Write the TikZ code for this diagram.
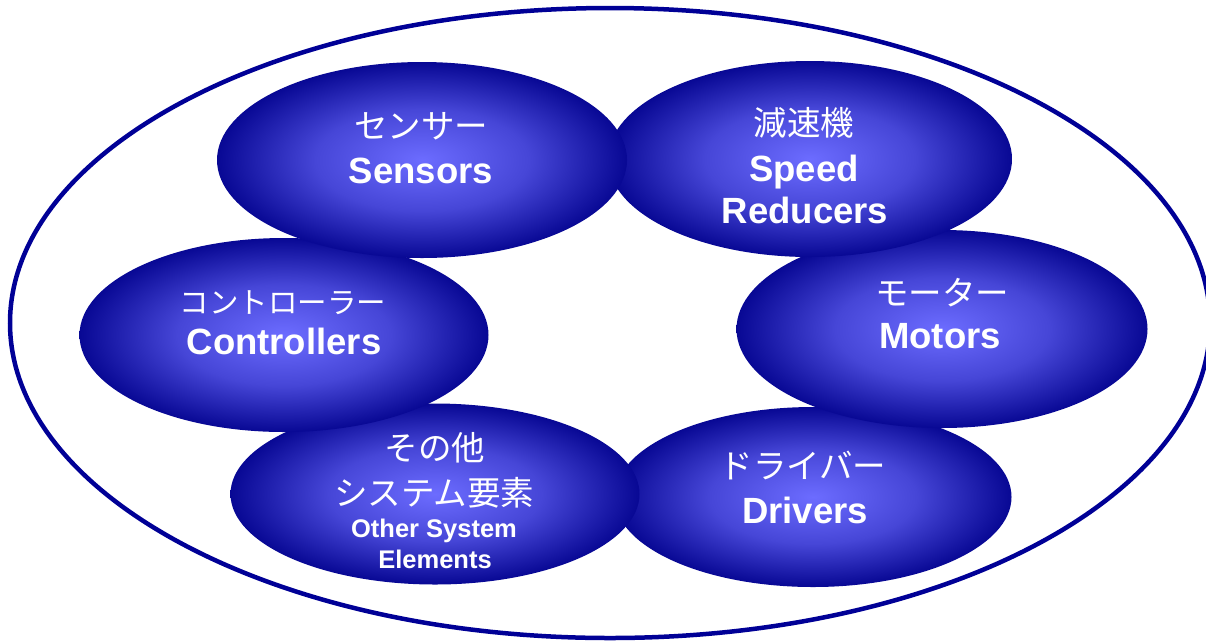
\documentclass[tikz,border=0pt]{standalone}
\usepackage{fontspec}
\setmainfont{Liberation Sans}
\newfontfamily\jpfont{Noto Sans CJK JP}
\usetikzlibrary{shapes.geometric}

\definecolor{bubblein}{RGB}{108,108,255}
\definecolor{bubblemid}{RGB}{70,70,215}
\definecolor{bubbleout}{RGB}{8,8,148}
\definecolor{rimblue}{RGB}{0,0,150}
\pgfdeclareradialshading{bubble}{\pgfpoint{0bp}{0bp}}{color(0bp)=(bubblein); color(13bp)=(bubblemid); color(25bp)=(bubbleout); color(50bp)=(bubbleout)}

\begin{document}
\begin{tikzpicture}[x=1pt,y=-1pt,
	part/.style={ellipse,shading=bubble,inner sep=0pt},
	jp/.style={anchor=base,inner sep=0pt,text=white,font=\jpfont\fontsize{33.5}{33.5}\selectfont},
	en/.style={anchor=base,inner sep=0pt,text=white,font=\bfseries\fontsize{36.5}{36.5}\selectfont},
	ensmall/.style={anchor=base,inner sep=0pt,text=white,font=\bfseries\fontsize{25.5}{25.5}\selectfont}]
	\useasboundingbox (0,0) rectangle (1206,641);

	% outer ring
	\draw[line width=4.5pt,rimblue] (610,323) ellipse [x radius=600pt, y radius=315pt];

	% parts, back to front
	\node[part,minimum width=397pt,minimum height=180pt] (drv) at (813,497) {};
	\node[part,minimum width=411pt,minimum height=198pt] (mot) at (942,329) {};
	\node[part,minimum width=409pt,minimum height=181pt] (oth) at (435,494) {};
	\node[part,minimum width=409pt,minimum height=194pt] (ctl) at (284,335) {};
	\node[part,minimum width=404pt,minimum height=196pt] (red) at (810,159) {};
	\node[part,minimum width=410pt,minimum height=196pt] (sen) at (422,160) {};

	% labels
	\node[jp] (sen-jp) at (421,138.5) {センサー};
	\node[en] (sen-en) at (421,183) {Sensors};

	\node[jp] (red-jp) at (804,135) {減速機};
	\node[en] (red-en1) at (804,181) {Speed};
	\node[en] (red-en2) at (805,223) {Reducers};

	\node[jp,font=\jpfont\fontsize{29.5}{29.5}\selectfont] (ctl-jp) at (283,313.5) {コントローラー};
	\node[en] (ctl-en) at (284,354) {Controllers};

	\node[jp] (mot-jp) at (942,305) {モーター};
	\node[en] (mot-en) at (940,348) {Motors};

	\node[jp] (drv-jp) at (803,478.5) {ドライバー};
	\node[en] (drv-en) at (805,523) {Drivers};

	\node[jp] (oth-jp1) at (435,460.5) {その他};
	\node[jp] (oth-jp2) at (434,505.5) {システム要素};
	\node[ensmall] (oth-en1) at (434,537) {Other System};
	\node[ensmall] (oth-en2) at (435,568) {Elements};
\end{tikzpicture}
\end{document}
